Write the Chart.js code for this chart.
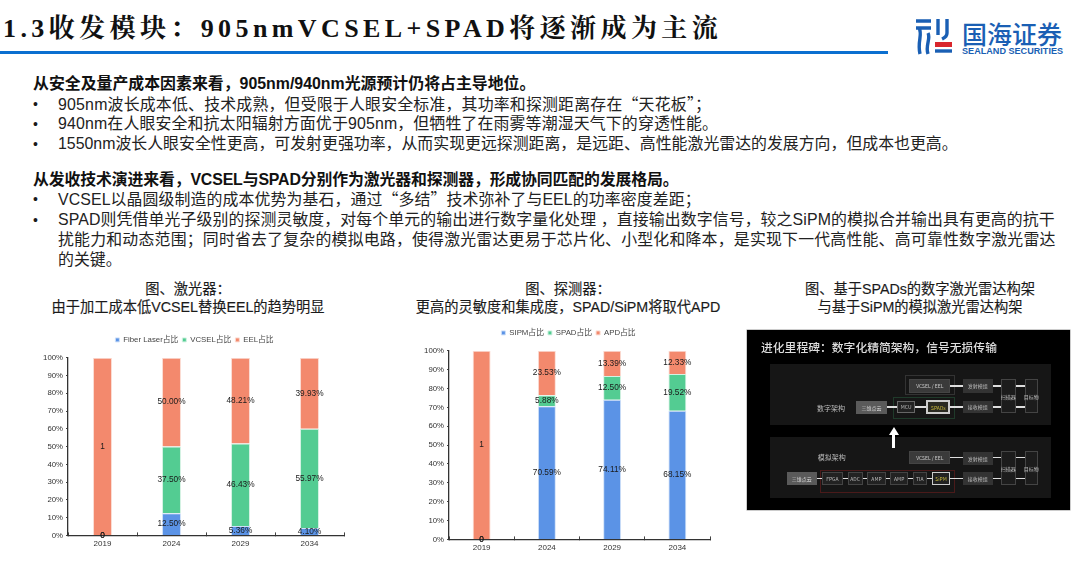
<!DOCTYPE html>
<html lang="zh-CN"><head><meta charset="utf-8">
<script src="https://cdn.jsdelivr.net/npm/chart.js@4"></script>
<style>
html,body{margin:0;padding:0;background:#fff;width:1080px;height:568px;overflow:hidden}
body{position:relative;font-family:"Liberation Sans","Noto Sans CJK SC",sans-serif;color:#1a1a1a}
.t{position:absolute;white-space:nowrap;line-height:20px}
.c{text-align:center;transform:translateX(-50%);-webkit-text-stroke:.15px #222;font-size:14.25px;line-height:18px}
.q{font-family:"Noto Sans CJK SC",sans-serif}
canvas{position:absolute;filter:blur(.35px)}
.box{position:absolute;box-sizing:border-box;display:flex;align-items:center;justify-content:center;font-size:5px;color:#aaa;white-space:nowrap;font-family:"Noto Sans CJK SC",sans-serif}
</style></head><body>
<div class="t" id="title" style="left:3px;top:15px;font:bold 26px/28px 'Liberation Serif','Noto Serif CJK SC','Noto Sans CJK SC',serif;letter-spacing:4.4px;color:#111">1.3收发模块：905nmVCSEL+SPAD将逐渐成为主流</div>
<div style="position:absolute;left:0;top:51px;width:888px;height:3px;background:#0b6fd0"></div>
<svg style="position:absolute;left:916px;top:19px;filter:blur(.3px)" width="36" height="36" viewBox="0 0 36 36">
<g fill="none" stroke="#1a5fb4" stroke-width="3.4">
<path d="M0 2H15M0 9H15M3 9C7 16 1 22 4 35M12 14C15 20 9 26 12 35"/>
<path d="M22 0V16M31 0V14C31 18 28 19 26 20"/>
<path d="M19 32H36"/></g>
<rect x="19" y="23" width="17" height="5" fill="#d9262c"/>
</svg>
<div class="t" style="left:962px;top:18px;font:500 25px/30px 'Noto Sans CJK SC',sans-serif;color:#1a5fb4">国海证券</div>
<div class="t" style="left:962px;top:44.5px;font:bold 9.1px/12px 'Liberation Sans Narrow','Liberation Sans',sans-serif;color:#1a5fb4;letter-spacing:0">SEALAND SECURITIES</div>

<div id="copy"></div>

<div class="t c" style="left:188px;top:280px">图、激光器：<br>由于加工成本低VCSEL替换EEL的趋势明显</div>
<div class="t c" style="left:568px;top:280px">图、探测器：<br>更高的灵敏度和集成度，SPAD/SiPM将取代APD</div>
<div class="t c" style="left:920px;top:280px">图、基于SPADs的数字激光雷达构架<br>与基于SiPM的模拟激光雷达构架</div>

<canvas id="laser" style="left:20px;top:332px;width:340px;height:232px"></canvas>
<canvas id="detector" style="left:400px;top:325px;width:330px;height:243px"></canvas>
<div id="panel" style="position:absolute;left:747px;top:330px;width:323px;height:180px;background:#000;box-shadow:0 0 0 .5px #999;filter:blur(.3px)"></div>

<script>
/* ---------- chart data ---------- */
const years = ['2019','2024','2029','2034'];
const fiberLaser = [0, 0.125, 0.0536, 0.041];
const vcsel      = [0, 0.375, 0.4643, 0.5597];
const eel        = [1, 0.5, 0.4821, 0.3993];
const sipm = [0, 0.7059, 0.7411, 0.6815];
const spad = [0, 0.0588, 0.125, 0.1952];
const apd  = [1, 0.2353, 0.1339, 0.1233];
const laserSeries = ['Fiber Laser占比','VCSEL占比','EEL占比'];
const detectorSeries = ['SIPM占比','SPAD占比','APD占比'];

/* ---------- slide copy: x, y, bold, text, bullet, letter spacing ---------- */
const copyLines = [
 [33,74,1,'从安全及量产成本因素来看，905nm/940nm光源预计仍将占主导地位。',0,0],
 [58,94,0,'905nm波长成本低、技术成熟，但受限于人眼安全标准，其功率和探测距离存在“天花板”；',1,.2],
 [58,114,0,'940nm在人眼安全和抗太阳辐射方面优于905nm，但牺牲了在雨雾等潮湿天气下的穿透性能。',1,.15],
 [58,133.5,0,'1550nm波长人眼安全性更高，可发射更强功率，从而实现更远探测距离，是远距、高性能激光雷达的发展方向，但成本也更高。',1,0],
 [33,170,1,'从发收技术演进来看，VCSEL与SPAD分别作为激光器和探测器，形成协同匹配的发展格局。',0,-.15],
 [58,189,0,'VCSEL以晶圆级制造的成本优势为基石，通过“多结”技术弥补了与EEL的功率密度差距；',1,.1],
 [58,209.5,0,'SPAD则凭借单光子级别的探测灵敏度，对每个单元的输出进行数字量化处理 ，直接输出数字信号，较之SiPM的模拟合并输出具有更高的抗干',1,.1],
 [58,229.5,0,'扰能力和动态范围；同时省去了复杂的模拟电路，使得激光雷达更易于芯片化、小型化和降本，是实现下一代高性能、高可靠性数字激光雷达',0,.2],
 [58,250,0,'的关键。',0,0]
];
const copy = document.getElementById('copy');
copyLines.forEach(([x,y,b,s,bullet,ls])=>{
  const d=document.createElement('div');d.className='t';
  d.style.cssText=`left:${x}px;top:${y}px;font-size:15.9px;letter-spacing:${ls}px;font-weight:${b?700:400};color:${b?'#111':'#222'}`;
  d.innerHTML=s.replace(/[“”]/g,m=>`<span class="q">${m}</span>`);copy.appendChild(d);
  if(bullet){const o=document.createElement('div');o.className='t';
    o.style.cssText=`left:33px;top:${y}px;font-size:14px`;o.textContent='•';copy.appendChild(o);}
});

/* ---------- architecture panel ---------- */
const panel=document.getElementById('panel');
function box(x1,y1,x2,y2,txt,bg,bd,col,fs){
  const d=document.createElement('div');d.className='box';
  d.style.cssText=`left:${(x1-20)/3}px;top:${(y1-180)/3}px;width:${(x2-x1)/3}px;height:${(y2-y1)/3}px;background:${bg||'transparent'};border:${bd||'none'};color:${col||'#aaa'};font-size:${fs||5}px`;
  d.textContent=txt||'';panel.appendChild(d);
}
box(88,282,933,465,'','#161616');
box(88,500,933,683,'','#161616');
box(493,314,643,374,'','', '1px solid #333');
box(507,328,630,368,'VCSEL / EEL','#3a3a3a','1px solid #444','#ccc');
box(667,328,758,368,'发射模组','#333','', '#bbb');
box(667,392,758,430,'接收模组','#333','', '#bbb');
box(781,328,826,430,'扫描器','#1c1c1c','1px solid #444','#bbb');
box(853,328,893,430,'目标物','#1c1c1c','1px solid #444','#bbb');
box(457,380,643,446,'','', '1px solid #1f3a2a');
box(347,392,440,432,'三维点云','#5a5a5a','', '#ddd');
box(470,392,525,430,'MCU','#222','1px solid #666','#bbb');
box(558,390,630,432,'SPADs','#2a2a22','2px solid #ccc','#c8b93c');
box(232,400,312,430,'数字架构','', '', '#bbb',7);
box(232,545,316,575,'模拟架构','', '', '#bbb',7);
box(238,600,643,668,'','', '1px solid #4a1a1a');
box(507,542,630,583,'VCSEL / EEL','#3a3a3a','1px solid #444','#ccc');
box(667,545,758,585,'发射模组','#333','', '#bbb');
box(667,606,758,646,'接收模组','#333','', '#bbb');
box(781,543,826,646,'扫描器','#1c1c1c','1px solid #444','#bbb');
box(853,543,893,646,'目标物','#1c1c1c','1px solid #444','#bbb');
box(139,605,229,646,'三维点云','#5a5a5a','', '#ddd');
box(244,606,308,646,'FPGA','#222','1px solid #444','#bbb');
box(322,606,367,646,'ADC','#222','1px solid #444','#bbb');
box(381,606,436,646,'AMP','#222','1px solid #444','#bbb');
box(449,606,504,646,'AMP','#222','1px solid #444','#bbb');
box(517,606,560,646,'TIA','#222','1px solid #444','#bbb');
box(574,606,630,646,'SiPM','#222','1.5px solid #ccc','#c8b93c');
[[440,470,411],[525,558,411],[630,667,411],[630,667,348],[758,781,348],[758,781,411],[826,853,348],[826,853,411],
 [229,244,625],[308,322,625],[367,381,625],[436,449,625],[504,517,625],[560,574,625],[630,667,625],[630,667,562],[758,781,562],[758,781,625],[826,853,562],[826,853,625]]
 .forEach(([a,b,y])=>box(a,y-2,b,y+2,'','#ddd'));
box(454,490,464,535,'','#fff');
const arrow=document.createElement('div');
arrow.style.cssText=`position:absolute;left:${(446-20)/3}px;top:${(470-180)/3}px;width:0;height:0;border-left:5px solid transparent;border-right:5px solid transparent;border-bottom:8px solid #fff`;
panel.appendChild(arrow);
const h=document.createElement('div');
h.style.cssText=`position:absolute;left:14px;top:8px;color:#ddd;font:500 11.8px/18px "Noto Sans CJK SC",sans-serif;white-space:nowrap`;
h.textContent='进化里程碑：数字化精简架构，信号无损传输';panel.appendChild(h);

/* ---------- charts ---------- */
const BLUE='#5b93e6',GREEN='#53cc92',RED='#f3896d';
const fmt=v=>(v===0||v===1)?String(v):(v*100).toFixed(2)+'%';
const barLabels={id:'barLabels',
 beforeInit(chart){
  const lg=chart.legend,f=lg.fit;
  lg.fit=function(){f.call(lg);lg.height+=4;};
 },
 afterLayout(chart){
  const lg=chart.legend,dx=chart.options.legendShift||0;
  lg.left+=dx;lg.right+=dx;
 },
 afterDatasetsDraw(chart){
  const {ctx}=chart;ctx.save();
  ctx.font='8.3px "Liberation Sans",sans-serif';ctx.fillStyle='#1a1a1a';
  ctx.textAlign='center';ctx.textBaseline='middle';
  chart.data.datasets.forEach((ds,i)=>{
    chart.getDatasetMeta(i).data.forEach((el,j)=>{
      const p=el.getProps(['x','y','base'],true);
      ctx.fillText(fmt(ds.data[j]),p.x,(p.y+p.base)/2);
    });
  });
  ctx.restore();
}};
function stacked(id,names,a,b,c,barPct,pad,legendGap,legendShift){
  const canvas=document.getElementById(id);
  const w=parseInt(canvas.style.width),hh=parseInt(canvas.style.height);
  canvas.width=w;canvas.height=hh;
  const mk=(label,data,col,bd)=>({label,data,backgroundColor:col,borderColor:bd,borderWidth:1,
     barPercentage:barPct,categoryPercentage:1});
  return new Chart(canvas,{type:'bar',
    data:{labels:years,datasets:[mk(names[0],a,BLUE,'#cfe0f8'),mk(names[1],b,GREEN,'#d4f2e3'),mk(names[2],c,RED,'#fbdcd3')]},
    plugins:[barLabels],
    options:{responsive:false,animation:false,devicePixelRatio:1,legendShift,
      layout:{padding:{left:pad.left,right:pad.right,top:pad.top,bottom:pad.bottom}},
      plugins:{tooltip:{enabled:false},
        legend:{position:'top',labels:{usePointStyle:true,pointStyle:'rect',boxWidth:4,boxHeight:4,padding:legendGap,color:'#444',
           font:{size:7.8,family:'"Liberation Sans","Noto Sans CJK SC",sans-serif'}}}},
      scales:{
        x:{stacked:true,offset:true,border:{color:'#333',width:1.3},
           grid:{display:true,drawOnChartArea:false,drawTicks:true,tickLength:-3,tickColor:'#444'},
           ticks:{color:'#333',padding:7,font:{size:8,family:'"Liberation Sans",sans-serif'},maxRotation:0}},
        y:{stacked:true,min:0,max:1,border:{color:'#333',width:1.3},
           afterFit(s){s.width=pad.yw},
           grid:{drawOnChartArea:false,drawTicks:true,tickLength:2,tickColor:'#444'},
           ticks:{stepSize:0.1,color:'#333',padding:3,callback:v=>Math.round(v*100)+'%',
                  font:{size:7.8,family:'"Liberation Sans",sans-serif'}}}
      }}});
}
stacked('laser',laserSeries,fiberLaser,vcsel,eel,0.275,{left:0,right:16,top:0,bottom:8,yw:48},4,12.5);
stacked('detector',detectorSeries,sipm,spad,apd,0.275,{left:0,right:20,top:0,bottom:8,yw:49},4,13.5);
</script>
</body></html>
